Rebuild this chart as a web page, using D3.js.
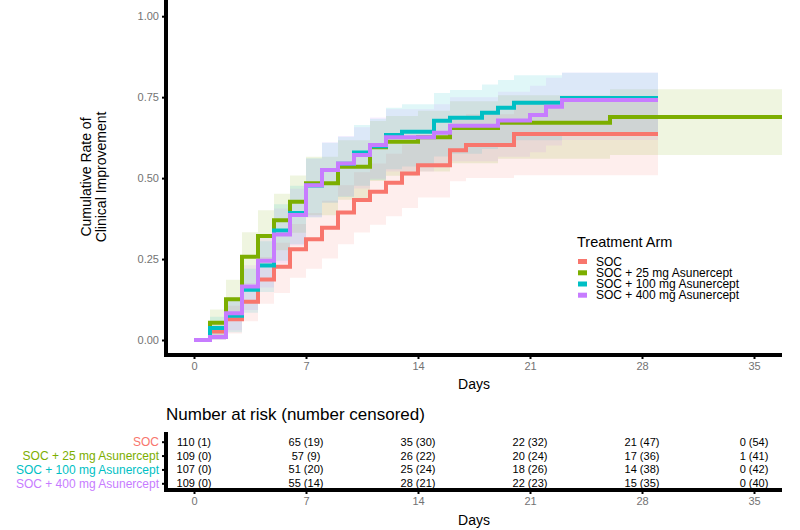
<!DOCTYPE html>
<html>
<head>
<meta charset="utf-8">
<script src="https://cdn.jsdelivr.net/npm/d3@7"></script>
<style>
  body { margin: 0; background: #fff; }
  svg { display: block; font-family: "Liberation Sans", Arial, sans-serif; }
</style>
</head>
<body>
<svg id="chart" width="800" height="530"></svg>
<script>
// ---------------- DATA ----------------
const groups = ["SOC", "SOC + 25 mg Asunercept", "SOC + 100 mg Asunercept", "SOC + 400 mg Asunercept"];
const colors = ["#F8766D", "#7CAE00", "#00BFC4", "#C77CFF"];

// Kaplan-Meier cumulative improvement steps (time, estimate, lower CI, upper CI)
const socTime = [0, 1, 2, 3, 4, 5, 6, 7, 8, 9, 10, 11, 12, 13, 14, 16, 17, 20];
const socEst  = [0, .026, .064, .118, .187, .226, .28, .311, .347, .394, .432, .458, .486, .514, .540, .586, .602, .636];
const socLo   = [0, .000, .020, .058, .112, .145, .192, .220, .252, .296, .332, .356, .382, .408, .440, .490, .500, .509];
const socHi   = [0, .054, .106, .175, .256, .300, .358, .392, .430, .478, .518, .545, .575, .604, .631, .680, .697, .740];
const socEnd  = 29;

const d25Time = [0, 1, 2, 3, 4, 5, 6, 7, 9, 11, 12, 14, 16, 19, 26];
const d25Est  = [0, .053, .126, .257, .321, .37, .427, .484, .535, .595, .612, .626, .655, .671, .689];
const d25Lo   = [0, .010, .062, .173, .231, .277, .331, .385, .433, .491, .507, .520, .546, .560, .571];
const d25Hi   = [0, .094, .186, .333, .401, .452, .508, .566, .617, .676, .692, .708, .737, .756, .774];
const d25End  = 36.75;

const d100Time = [0, 1, 2, 3, 4, 5, 6, 7, 8, 9, 10, 11, 12, 13, 15, 16, 18, 19, 20, 23];
const d100Est  = [0, .037, .075, .155, .23, .338, .392, .477, .525, .544, .579, .598, .633, .643, .677, .686, .702, .717, .733, .747];
const d100Lo   = [0, .001, .024, .084, .148, .245, .296, .378, .424, .442, .476, .494, .527, .536, .567, .575, .590, .603, .617, .631];
const d100Hi   = [0, .072, .124, .220, .305, .419, .476, .561, .609, .628, .664, .683, .717, .728, .763, .772, .789, .803, .818, .825];
const d100End  = 29;

const d400Time = [0, 1, 2, 3, 4, 5, 6, 7, 8, 9, 10, 11, 12, 15, 16, 19, 21, 22, 23];
const d400Est  = [0, .009, .083, .165, .245, .326, .386, .478, .525, .545, .571, .602, .626, .640, .662, .678, .695, .720, .741];
const d400Lo   = [0, .000, .030, .093, .162, .236, .292, .380, .425, .444, .468, .498, .520, .533, .552, .566, .580, .601, .618];
const d400Hi   = [0, .027, .133, .231, .321, .406, .467, .560, .611, .630, .657, .687, .713, .728, .750, .767, .785, .810, .826];
const d400End  = 29;

const xTicks = [0, 7, 14, 21, 28, 35];
const yTicks = [0, 0.25, 0.5, 0.75, 1];

// Number at risk (number censored) at each x tick
const riskSOC  = ["110 (1)", "65 (19)", "35 (30)", "22 (32)", "21 (47)", "0 (54)"];
const risk25   = ["109 (0)", "57 (9)", "26 (22)", "20 (24)", "17 (36)", "1 (41)"];
const risk100  = ["107 (0)", "51 (20)", "25 (24)", "18 (26)", "14 (38)", "0 (42)"];
const risk400  = ["109 (0)", "55 (14)", "28 (21)", "22 (23)", "15 (35)", "0 (40)"];

// ---------------- BUILD ----------------
function series(t, e, lo, hi, end) {
  const pts = t.map((d, i) => ({t: d, e: e[i], lo: lo[i], hi: hi[i]}));
  const last = pts[pts.length - 1];
  pts.push({t: end, e: last.e, lo: last.lo, hi: last.hi});
  return pts;
}
const data = [
  series(socTime, socEst, socLo, socHi, socEnd),
  series(d25Time, d25Est, d25Lo, d25Hi, d25End),
  series(d100Time, d100Est, d100Lo, d100Hi, d100End),
  series(d400Time, d400Est, d400Lo, d400Hi, d400End)
];
const riskRows = [riskSOC, risk25, risk100, risk400];

const svg = d3.select("#chart");
const x = d3.scaleLinear().domain([-1.75, 36.75]).range([166, 782]);
const y = d3.scaleLinear().domain([-0.05, 1.05]).range([356.2, 0]);

const tickGray = "#737373";

// Confidence bands
const area = d3.area().curve(d3.curveStepAfter)
  .x(d => x(d.t)).y0(d => y(d.lo)).y1(d => y(d.hi));
data.forEach((s, i) => {
  svg.append("path").attr("d", area(s)).attr("fill", colors[i]).attr("fill-opacity", 0.12);
});

// Step lines
const line = d3.line().curve(d3.curveStepAfter).x(d => x(d.t)).y(d => y(d.e));
data.forEach((s, i) => {
  svg.append("path").attr("d", line(s)).attr("fill", "none")
    .attr("stroke", colors[i]).attr("stroke-width", 4);
});

// Axes (main)
const yAxis = d3.axisLeft(y).tickValues(yTicks).tickFormat(d3.format(".2f")).tickSize(4).tickPadding(3);
const gy = svg.append("g").attr("transform", "translate(166,0)").call(yAxis);
const xAxis = d3.axisBottom(x).tickValues(xTicks).tickFormat(d3.format("d")).tickSize(4).tickPadding(3);
const gx = svg.append("g").attr("transform", "translate(0,355)").call(xAxis);
[gx, gy].forEach(g => {
  g.select(".domain").remove();
  g.selectAll(".tick line").attr("stroke", "#000").attr("stroke-width", 2);
  g.selectAll(".tick text").attr("fill", tickGray).attr("font-size", 11)
    .attr("font-family", "Liberation Sans, Arial, sans-serif");
});
svg.append("line").attr("x1", 166).attr("x2", 166).attr("y1", 0).attr("y2", 357)
  .attr("stroke", "#000").attr("stroke-width", 4);
svg.append("line").attr("x1", 164).attr("x2", 782).attr("y1", 355).attr("y2", 355)
  .attr("stroke", "#000").attr("stroke-width", 4);

svg.append("text").attr("x", x(17.5)).attr("y", 384).attr("text-anchor", "middle")
  .attr("dominant-baseline", "central").attr("font-size", 14).text("Days");

const yt = svg.append("text").attr("transform", "translate(93,177) rotate(-90)")
  .attr("text-anchor", "middle").attr("font-size", 14);
yt.append("tspan").attr("x", 0).attr("dy", "-0.15em").text("Cumulative Rate of");
yt.append("tspan").attr("x", 0).attr("dy", "1.05em").text("Clinical Improvement");

// Legend
svg.append("text").attr("x", 577).attr("y", 242).attr("dominant-baseline", "central")
  .attr("font-size", 14.5).text("Treatment Arm");
const legY = [261.5, 272.8, 284, 295.2];
groups.forEach((g, i) => {
  svg.append("rect").attr("x", 578).attr("y", legY[i] - 2.5).attr("width", 9).attr("height", 5)
    .attr("fill", colors[i]);
  svg.append("text").attr("x", 596).attr("y", legY[i]).attr("dominant-baseline", "central")
    .attr("font-size", 12).text(g);
});

// ---------------- Risk table ----------------
svg.append("text").attr("x", 166).attr("y", 414).attr("dominant-baseline", "central")
  .attr("font-size", 17).text("Number at risk (number censored)");

const ry = d3.scalePoint().domain(groups).range([441.7, 483.3]);
riskRows.forEach((row, gi) => {
  row.forEach((txt, ti) => {
    svg.append("text").attr("x", x(xTicks[ti])).attr("y", ry(groups[gi]))
      .attr("text-anchor", "middle").attr("dominant-baseline", "central")
      .attr("font-size", 11).text(txt);
  });
});
const gry = svg.append("g").attr("transform", "translate(166,0)")
  .call(d3.axisLeft(ry).tickSize(4).tickPadding(3));
gry.select(".domain").remove();
gry.selectAll(".tick line").attr("stroke", "#000").attr("stroke-width", 2);
gry.selectAll(".tick text").attr("font-size", 12).attr("font-family", "Liberation Sans, Arial, sans-serif")
  .attr("fill", (d, i) => colors[i]);

const grx = svg.append("g").attr("transform", "translate(0,490)")
  .call(d3.axisBottom(x).tickValues(xTicks).tickFormat(d3.format("d")).tickSize(4).tickPadding(3));
grx.select(".domain").remove();
grx.selectAll(".tick line").attr("stroke", "#000").attr("stroke-width", 2);
grx.selectAll(".tick text").attr("fill", tickGray).attr("font-size", 11)
  .attr("font-family", "Liberation Sans, Arial, sans-serif");

svg.append("line").attr("x1", 166).attr("x2", 166).attr("y1", 432).attr("y2", 492)
  .attr("stroke", "#000").attr("stroke-width", 4);
svg.append("line").attr("x1", 164).attr("x2", 782).attr("y1", 490).attr("y2", 490)
  .attr("stroke", "#000").attr("stroke-width", 4);

svg.append("text").attr("x", x(17.5)).attr("y", 520).attr("text-anchor", "middle")
  .attr("dominant-baseline", "central").attr("font-size", 14).text("Days");
</script>
</body>
</html>
